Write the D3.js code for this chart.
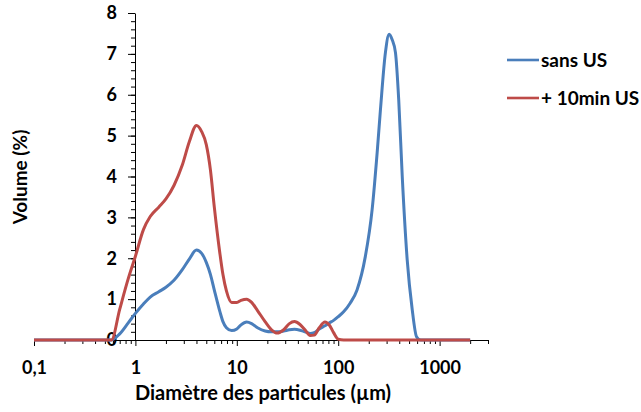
<!DOCTYPE html>
<html>
<head>
<meta charset="utf-8">
<script src="https://cdn.jsdelivr.net/npm/d3@7"></script>
<style>
  body { margin: 0; background: #fff; }
  svg text { font-family: Lato, "Open Sans", sans-serif; font-weight: bold; fill: #000; }
</style>
</head>
<body>
<svg id="chart" width="641" height="412"></svg>
<script>
const width = 641, height = 412;

// diamètre (µm) et volume (%)
const tailles = [0.1, 0.5, 0.58, 0.7, 0.85, 1, 1.2, 1.4, 1.7, 2, 2.4, 2.9, 3.4, 4, 4.5, 5, 5.5, 6,
  6.8, 7.3, 7.9, 8.9, 10, 11, 12.5, 14, 16, 19, 22, 25, 29, 33, 37, 42, 47, 53, 58, 65, 74, 82,
  90, 100, 113, 131, 153, 185, 216, 242, 261, 292, 318, 340, 367, 395, 428, 479, 537, 592, 650,
  800, 1000, 1500, 2000];
const sansUS = [0, 0, 0, 0.15, 0.42, 0.65, 0.88, 1.05, 1.18, 1.29, 1.46, 1.72, 1.98, 2.2, 2.12, 1.9, 1.6, 1.22,
  0.7, 0.45, 0.3, 0.23, 0.27, 0.37, 0.44, 0.4, 0.3, 0.22, 0.2, 0.2, 0.22, 0.25, 0.26, 0.24, 0.2, 0.16, 0.18, 0.27, 0.35, 0.42,
  0.48, 0.57, 0.69, 0.9, 1.22, 2.04, 3.19, 4.58, 5.64, 7.03, 7.48, 7.35, 7.03, 5.88, 4.0, 1.96, 0.74, 0.08, 0,
  0, 0, 0, 0];
const plus10min = [0, 0, 0, 0.75, 1.5, 2.05, 2.7, 3.02, 3.25, 3.45, 3.78, 4.28, 4.85, 5.25, 5.1, 4.78, 4.15, 3.25,
  2.13, 1.6, 1.2, 0.92, 0.92, 0.97, 1.0, 0.92, 0.72, 0.45, 0.25, 0.17, 0.25, 0.4, 0.45, 0.38, 0.25, 0.11, 0.12, 0.3, 0.44, 0.36,
  0.18, 0.02, 0, 0, 0, 0, 0, 0, 0, 0, 0, 0, 0, 0, 0, 0, 0, 0, 0,
  0, 0, 0, 0];

const series = [
  { nom: "sans US", valeurs: sansUS, couleur: "#4a7ebb" },
  { nom: "+ 10min US", valeurs: plus10min, couleur: "#be4b48" }
];

const xMajeurs = [0.1, 1, 10, 100, 1000];
const xLabels = ["0,1", "1", "10", "100", "1000"];
const yMajeurs = [0, 1, 2, 3, 4, 5, 6, 7, 8];

const svg = d3.select("#chart");

const x = d3.scaleLog().domain([0.1, 3000]).range([34, 488]);
const y = d3.scaleLinear().domain([0, 8]).range([340, 13]);

// petites graduations
const xMineurs = [];
xMajeurs.forEach(d => { for (let k = 2; k <= 9; k++) if (k * d <= 3000) xMineurs.push(k * d); });
const yMineurs = d3.range(0, 8.001, 0.2);

// axe X
svg.append("g")
    .attr("transform", "translate(0,340)")
    .call(d3.axisBottom(x).tickValues(xMineurs).tickSize(4).tickFormat(""))
    .call(g => g.select(".domain").remove());

const ax = svg.append("g")
    .attr("transform", "translate(0,340)")
    .call(d3.axisBottom(x).tickValues(xMajeurs).tickSize(6).tickSizeOuter(0)
        .tickFormat((d, i) => xLabels[i]));
ax.selectAll("text").attr("y", 34).attr("dy", 0).style("font-size", "18px");
ax.select(".domain").attr("d", "M34,0.5H488");

// axe Y (croise à x = 1)
const x0 = Math.round(x(1));
svg.append("g")
    .attr("transform", `translate(${x0},0)`)
    .call(d3.axisLeft(y).tickValues(yMineurs).tickSize(4).tickFormat(""))
    .call(g => g.select(".domain").remove());

const ay = svg.append("g")
    .attr("transform", `translate(${x0},0)`)
    .call(d3.axisLeft(y).tickValues(yMajeurs).tickSize(7).tickSizeOuter(0));
ay.selectAll("text").attr("x", -18).style("font-size", "18px");

svg.selectAll(".tick line, .domain").attr("stroke", "#000");

// courbes
const ligne = d3.line()
    .x((d, i) => x(tailles[i]))
    .y(d => y(d))
    .curve(d3.curveMonotoneX);

svg.append("g").selectAll("path")
    .data(series)
    .join("path")
    .attr("d", d => ligne(d.valeurs))
    .attr("fill", "none")
    .attr("stroke", d => d.couleur)
    .attr("stroke-width", 3)
    .attr("stroke-linejoin", "round");

// titres
svg.append("text")
    .attr("x", 263).attr("y", 400)
    .attr("text-anchor", "middle")
    .style("font-size", "20px")
    .text("Diamètre des particules (µm)");

svg.append("text")
    .attr("transform", "translate(27,177) rotate(-90)")
    .attr("text-anchor", "middle")
    .style("font-size", "19px")
    .text("Volume (%)");

// légende
const leg = svg.append("g").selectAll("g")
    .data(series)
    .join("g")
    .attr("transform", (d, i) => `translate(507,${60 + i * 38})`);
leg.append("line")
    .attr("x1", 0).attr("x2", 32)
    .attr("stroke", d => d.couleur)
    .attr("stroke-width", 2.6);
leg.append("text")
    .attr("x", 34).attr("dy", "0.35em")
    .style("font-size", "19px")
    .text(d => d.nom);
</script>
</body>
</html>
